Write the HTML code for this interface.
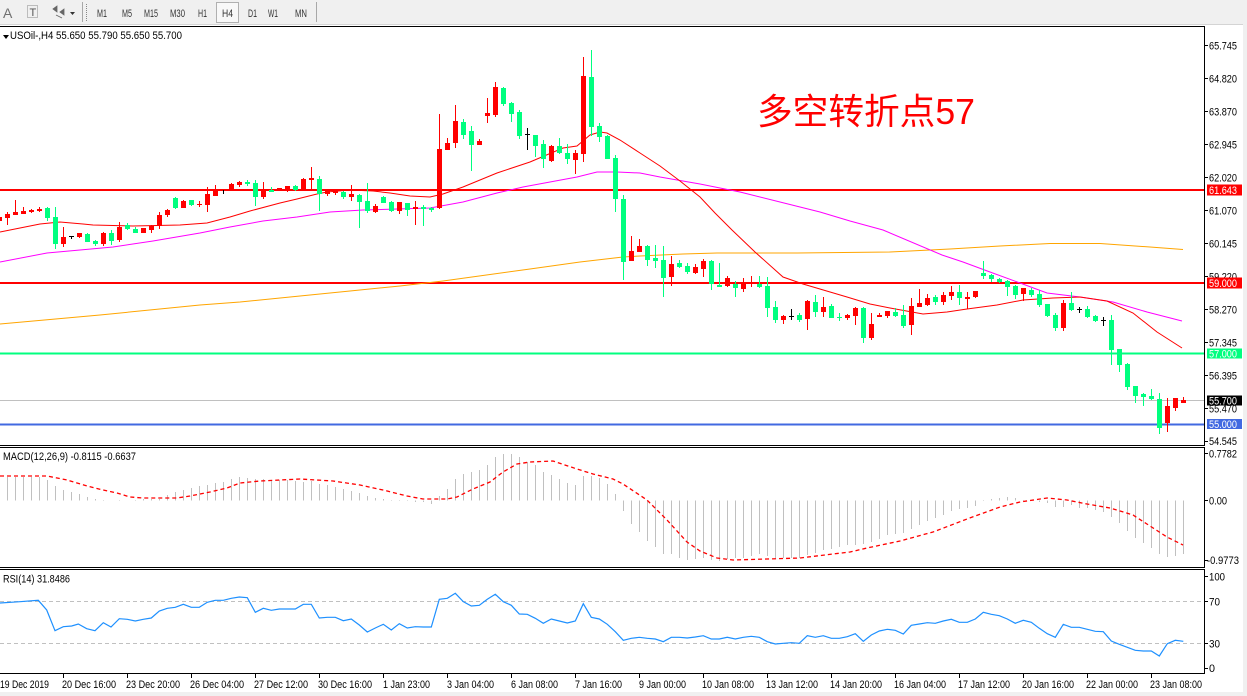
<!DOCTYPE html>
<html><head><meta charset="utf-8"><style>
html,body{margin:0;padding:0;background:#fff;width:1247px;height:696px;overflow:hidden}
svg{display:block}
text{font-family:"Liberation Sans","Noto Sans CJK SC",sans-serif}
</style></head><body>
<svg width="1247" height="696" viewBox="0 0 1247 696" xmlns="http://www.w3.org/2000/svg">
<rect x="0" y="0" width="1247" height="696" fill="#fff"/>
<!-- toolbar -->
<rect x="0" y="0" width="1247" height="24" fill="#f0f0f0"/>
<line x1="0" y1="24.5" x2="1247" y2="24.5" stroke="#d4d4d4"/>
<text x="3" y="18" font-size="14" fill="#707070">A</text>
<rect x="27.5" y="5.5" width="10" height="12" fill="none" stroke="#888" stroke-dasharray="1 1"/>
<text x="29.5" y="16" font-size="11" fill="#555">T</text>
<path d="M53 9l4 -3v6zM60 12l4 3v-6zM56 15l6 3" fill="#666" stroke="#666" stroke-width="0.8"/>
<path d="M70 12h5l-2.5 3z" fill="#333"/>
<line x1="82.5" y1="2" x2="82.5" y2="22" stroke="#a8a8a8"/>
<line x1="86.5" y1="4" x2="86.5" y2="21" stroke="#888" stroke-dasharray="1 1"/>
<rect x="216.5" y="2.5" width="22" height="20" fill="#f8f8f8" stroke="#b0b0b0"/>
<g font-size="11" fill="#333">
<text x="97" y="17" textLength="10" lengthAdjust="spacingAndGlyphs">M1</text>
<text x="122" y="17" textLength="10" lengthAdjust="spacingAndGlyphs">M5</text>
<text x="144" y="17" textLength="14" lengthAdjust="spacingAndGlyphs">M15</text>
<text x="170" y="17" textLength="15" lengthAdjust="spacingAndGlyphs">M30</text>
<text x="198" y="17" textLength="9" lengthAdjust="spacingAndGlyphs">H1</text>
<text x="222" y="17" textLength="11" lengthAdjust="spacingAndGlyphs">H4</text>
<text x="248" y="17" textLength="9" lengthAdjust="spacingAndGlyphs">D1</text>
<text x="268" y="17" textLength="10" lengthAdjust="spacingAndGlyphs">W1</text>
<text x="295" y="17" textLength="12" lengthAdjust="spacingAndGlyphs">MN</text>
</g>
<line x1="316.5" y1="2" x2="316.5" y2="22" stroke="#a8a8a8"/>

<!-- panel borders -->
<g stroke="#000" stroke-width="1" fill="none">
<line x1="0" y1="26.5" x2="1205" y2="26.5"/>
<line x1="0" y1="445.5" x2="1205" y2="445.5"/>
<line x1="0" y1="447.5" x2="1205" y2="447.5"/>
<line x1="0" y1="567.5" x2="1205" y2="567.5"/>
<line x1="0" y1="569.5" x2="1205" y2="569.5"/>
<line x1="0" y1="673.5" x2="1205" y2="673.5"/>
<line x1="1204.5" y1="26" x2="1204.5" y2="446"/>
<line x1="1204.5" y1="447" x2="1204.5" y2="568"/>
<line x1="1204.5" y1="569" x2="1204.5" y2="674"/>
</g>
<rect x="1243" y="0" width="4" height="696" fill="#f0f0f0"/>
<rect x="0" y="692" width="1247" height="4" fill="#f0f0f0"/>

<!-- header texts -->
<path d="M3 35h6l-3 4z" fill="#000"/>
<text x="10" y="39" font-size="11" textLength="172" lengthAdjust="spacingAndGlyphs">USOil-,H4  55.650 55.790 55.650 55.700</text>
<text x="3" y="460" font-size="11" textLength="133" lengthAdjust="spacingAndGlyphs">MACD(12,26,9) -0.8115 -0.6637</text>
<text x="3" y="582.5" font-size="11" textLength="67" lengthAdjust="spacingAndGlyphs">RSI(14) 31.8486</text>

<!-- level lines -->
<line x1="0" y1="400.5" x2="1204" y2="400.5" stroke="#c0c0c0"/>
<line x1="0" y1="190" x2="1204" y2="190" stroke="#ff0000" stroke-width="2"/>
<line x1="0" y1="283" x2="1204" y2="283" stroke="#ff0000" stroke-width="2"/>
<line x1="0" y1="353.5" x2="1204" y2="353.5" stroke="#00ff7f" stroke-width="2"/>
<line x1="0" y1="424.5" x2="1204" y2="424.5" stroke="#4169e1" stroke-width="2"/>

<!-- moving averages -->
<polyline fill="none" stroke="#ffa500" stroke-width="1" points="0,324 100,315 200,305 240,302 300,296 350,291 400,286 443,281 530,269 580,262 623,257 640,256 683,254 717,253 797,253 890,252 950,249 1000,246 1050,243.5 1100,243.5 1150,247 1183,249.5"/>
<polyline fill="none" stroke="#ff00ff" stroke-width="1" points="0,262 47,253 113,247 153,241 200,233 230,227 263,221 297,217 330,212 363,210 397,209 430,208 463,202 497,193 523,187 577,177 597,172 617,172 640,173 660,177 700,184 740,192 780,202 820,212 850,221 883,230 942,255 963,262 990,272 1020,283 1047,293 1080,297 1113,302 1147,312 1182,321"/>
<polyline fill="none" stroke="#ff0000" stroke-width="1" points="0,232 20,228 40,224 60,222 83,224 93,225 133,226 180,225 207,223 230,217 250,211 280,203 297,199 317,194 327,192 350,190 373,191 390,193 410,196 430,197 443,194 463,187 497,173 530,162 563,148 577,146 590,135 600,132 607,133 620,140 640,153 660,166 680,181 700,197 715,213 732,230 755,252 783,277 803,284 847,297 870,304 890,308 923,314 947,312 967,309 997,305 1023,300 1053,298 1080,297 1107,301 1133,313 1157,332 1182,348"/>

<!-- candles: red (up) -->
<path fill="none" stroke="#ff0000" stroke-width="1" d="M-.5 215V223M7.5 212V225M15.5 200V215M23.5 207V214M31.5 209V213M39.5 207V212M63.5 227V247M79.5 233V238M103.5 232V246M119.5 222V242M143.5 228V233M151.5 225V233M159.5 212V229M167.5 209V217M183.5 200V208M199.5 201V207M207.5 187V212M215.5 185V196M231.5 183V189M239.5 181V187M263.5 182V199M279.5 188V191M287.5 186V192M303.5 178V190M311.5 167V190M327.5 190V196M335.5 190V195M351.5 185V201M375.5 204V213M399.5 202V214M415.5 201V225M439.5 114V209M447.5 138V150M455.5 105V148M479.5 139V145M487.5 98V123M495.5 82V117M551.5 145V162M575.5 150V174M583.5 57V162M631.5 236V261M639.5 239V252M671.5 256V286M695.5 264V274M703.5 259V277M727.5 276V287M743.5 278V292M751.5 276V287M783.5 315V324M807.5 300V330M823.5 297V317M847.5 314V320M855.5 307V325M871.5 313V340M879.5 313V317M887.5 311V318M911.5 298V335M919.5 289V307M927.5 294V306M943.5 292V305M951.5 286V300M967.5 292V309M975.5 291V298M1023.5 288V301M1063.5 300V331M1167.5 398V432M1175.5 398V411M1183.5 397V403"/>
<path fill="#ff0000" d="M-3 217h5v4h-5zM5 214h5v4h-5zM13 212h5v3h-5zM21 211h5v3h-5zM29 210h5v2h-5zM37 209h5v2h-5zM61 237h5v7h-5zM77 233h5v4h-5zM101 233h5v11h-5zM117 227h5v13h-5zM141 228h5v5h-5zM149 226h5v4h-5zM157 215h5v11h-5zM165 210h5v5h-5zM181 201h5v7h-5zM197 204h5v1h-5zM205 194h5v11h-5zM213 190h5v6h-5zM229 184h5v5h-5zM237 182h5v3h-5zM261 189h5v8h-5zM277 188h5v3h-5zM285 186h5v5h-5zM301 179h5v11h-5zM309 178h5v2h-5zM325 191h5v3h-5zM333 190h5v3h-5zM349 194h5v3h-5zM373 206h5v6h-5zM397 202h5v9h-5zM413 207h5v2h-5zM437 149h5v59h-5zM445 143h5v7h-5zM453 121h5v22h-5zM477 141h5v4h-5zM485 113h5v3h-5zM493 87h5v28h-5zM549 146h5v15h-5zM573 153h5v7h-5zM581 76h5v78h-5zM629 251h5v10h-5zM637 246h5v6h-5zM669 264h5v13h-5zM693 267h5v6h-5zM701 261h5v8h-5zM725 278h5v8h-5zM741 283h5v6h-5zM749 282h5v1h-5zM781 316h5v4h-5zM805 301h5v18h-5zM821 307h5v5h-5zM845 315h5v3h-5zM853 308h5v8h-5zM869 324h5v14h-5zM877 315h5v2h-5zM885 311h5v5h-5zM909 306h5v19h-5zM917 303h5v4h-5zM925 298h5v7h-5zM941 295h5v7h-5zM949 292h5v4h-5zM965 297h5v2h-5zM973 291h5v6h-5zM1021 288h5v6h-5zM1061 303h5v25h-5zM1165 406h5v17h-5zM1173 398h5v10h-5zM1181 400h5v3h-5z"/>
<!-- candles: green (down) -->
<path fill="none" stroke="#00ff7f" stroke-width="1" d="M47.5 207V221M55.5 207V249M87.5 233V242M95.5 240V246M111.5 230V245M127.5 223V230M135.5 227V233M175.5 197V209M191.5 200V206M247.5 180V186M255.5 180V206M271.5 187V192M295.5 185V191M319.5 176V211M343.5 191V199M359.5 194V228M367.5 183V213M383.5 196V203M391.5 201V212M407.5 203V216M423.5 205V226M431.5 207V212M463.5 119V139M471.5 126V171M503.5 87V106M511.5 102V122M519.5 110V139M535.5 135V157M543.5 140V168M559.5 138V154M567.5 144V164M591.5 50V136M599.5 123V142M607.5 135V159M615.5 155V212M623.5 195V280M647.5 245V266M655.5 245V268M663.5 246V297M679.5 260V268M687.5 263V274M711.5 260V290M719.5 263V287M735.5 281V297M759.5 276V288M767.5 277V317M775.5 301V323M799.5 313V322M815.5 295V317M831.5 304V318M839.5 313V321M863.5 307V343M895.5 308V317M903.5 305V328M935.5 295V305M959.5 285V305M983.5 261V279M991.5 274V282M999.5 278V283M1007.5 280V296M1015.5 285V299M1031.5 288V297M1039.5 290V307M1047.5 304V317M1055.5 313V331M1071.5 292V311M1087.5 306V318M1095.5 315V322M1111.5 315V365M1119.5 349V372M1127.5 363V390M1135.5 386V403M1143.5 393V406M1151.5 389V400M1159.5 393V434"/>
<path fill="#00ff7f" d="M45 208h5v10h-5zM53 217h5v27h-5zM85 234h5v8h-5zM93 241h5v3h-5zM109 233h5v8h-5zM125 225h5v4h-5zM133 229h5v4h-5zM173 198h5v10h-5zM189 200h5v5h-5zM245 182h5v2h-5zM253 183h5v14h-5zM269 190h5v2h-5zM293 186h5v4h-5zM317 179h5v15h-5zM341 192h5v5h-5zM357 195h5v7h-5zM365 201h5v10h-5zM381 197h5v6h-5zM389 202h5v9h-5zM405 203h5v7h-5zM421 207h5v2h-5zM429 208h5v2h-5zM461 122h5v13h-5zM469 131h5v14h-5zM501 88h5v16h-5zM509 103h5v11h-5zM517 112h5v24h-5zM533 135h5v11h-5zM541 144h5v15h-5zM557 146h5v7h-5zM565 153h5v6h-5zM589 77h5v50h-5zM597 126h5v11h-5zM605 136h5v23h-5zM613 158h5v41h-5zM621 199h5v63h-5zM645 246h5v14h-5zM653 258h5v3h-5zM661 260h5v18h-5zM677 263h5v4h-5zM685 266h5v6h-5zM709 261h5v23h-5zM717 285h5v2h-5zM733 284h5v4h-5zM757 284h5v3h-5zM765 286h5v22h-5zM773 307h5v13h-5zM797 315h5v5h-5zM813 302h5v10h-5zM829 306h5v12h-5zM837 317h5v1h-5zM861 308h5v30h-5zM893 312h5v4h-5zM901 315h5v11h-5zM933 297h5v5h-5zM957 292h5v6h-5zM981 273h5v3h-5zM989 275h5v4h-5zM997 279h5v3h-5zM1005 281h5v6h-5zM1013 286h5v9h-5zM1029 290h5v5h-5zM1037 294h5v11h-5zM1045 304h5v12h-5zM1053 315h5v13h-5zM1069 303h5v7h-5zM1085 309h5v8h-5zM1093 316h5v5h-5zM1109 320h5v30h-5zM1117 349h5v16h-5zM1125 364h5v23h-5zM1133 386h5v10h-5zM1141 394h5v3h-5zM1149 396h5v3h-5zM1157 399h5v29h-5z"/>
<!-- doji -->
<path fill="none" stroke="#000" stroke-width="1" d="M71.5 236V239M223.5 190V194M527.5 128V150M791.5 309V320M1079.5 307V313M1103.5 317V326"/>
<path fill="#000" d="M69 236h5v1h-5zM525 134h5v1h-5zM789 316h5v1h-5zM1077 309h5v1h-5zM1101 320h5v1h-5z"/>

<!-- title -->
<text x="757" y="124" font-size="36" fill="#ff0000" textLength="218" lengthAdjust="spacingAndGlyphs" style="font-family:'Liberation Sans','Noto Sans CJK SC',sans-serif">多空转折点57</text>

<!-- price axis -->
<g stroke="#000">
<path d="M1204 45.5h4M1204 78.5h4M1204 111.5h4M1204 144.5h4M1204 177.5h4M1204 210.5h4M1204 243.5h4M1204 276.5h4M1204 309.5h4M1204 342.5h4M1204 375.5h4M1204 408.5h4M1204 441.5h4"/>
<path d="M1204 453.5h4M1204 500.5h4M1204 560.5h4M1204 576.5h4M1204 601.5h4M1204 643.5h4M1204 668.5h4"/>
</g>
<g font-size="11" fill="#000">
<text x="1209" y="49.5" textLength="28" lengthAdjust="spacingAndGlyphs">65.745</text>
<text x="1209" y="82.5" textLength="28" lengthAdjust="spacingAndGlyphs">64.820</text>
<text x="1209" y="115.5" textLength="28" lengthAdjust="spacingAndGlyphs">63.870</text>
<text x="1209" y="148.5" textLength="28" lengthAdjust="spacingAndGlyphs">62.945</text>
<text x="1209" y="181.5" textLength="28" lengthAdjust="spacingAndGlyphs">62.020</text>
<text x="1209" y="214.5" textLength="28" lengthAdjust="spacingAndGlyphs">61.070</text>
<text x="1209" y="247.5" textLength="28" lengthAdjust="spacingAndGlyphs">60.145</text>
<text x="1209" y="280.5" textLength="28" lengthAdjust="spacingAndGlyphs">59.220</text>
<text x="1209" y="313.5" textLength="28" lengthAdjust="spacingAndGlyphs">58.270</text>
<text x="1209" y="346.5" textLength="28" lengthAdjust="spacingAndGlyphs">57.345</text>
<text x="1209" y="379.5" textLength="28" lengthAdjust="spacingAndGlyphs">56.395</text>
<text x="1209" y="412.5" textLength="28" lengthAdjust="spacingAndGlyphs">55.470</text>
<text x="1209" y="445" textLength="28" lengthAdjust="spacingAndGlyphs">54.545</text>
<text x="1209" y="457.5" textLength="28" lengthAdjust="spacingAndGlyphs">0.7782</text>
<text x="1209" y="504.5" textLength="18" lengthAdjust="spacingAndGlyphs">0.00</text>
<text x="1207" y="564" textLength="32" lengthAdjust="spacingAndGlyphs">-0.9773</text>
<text x="1209" y="580.5" textLength="16" lengthAdjust="spacingAndGlyphs">100</text>
<text x="1209" y="605.5" textLength="11" lengthAdjust="spacingAndGlyphs">70</text>
<text x="1209" y="647.5" textLength="11" lengthAdjust="spacingAndGlyphs">30</text>
<text x="1209" y="672" textLength="6" lengthAdjust="spacingAndGlyphs">0</text>
</g>
<!-- level label boxes -->
<rect x="1207" y="184.5" width="35" height="11" fill="#ff0000"/>
<rect x="1207" y="277.5" width="35" height="11" fill="#ff0000"/>
<rect x="1207" y="348.5" width="35" height="10" fill="#00ff7f"/>
<rect x="1207" y="395.5" width="35" height="10" fill="#000"/>
<rect x="1207" y="419" width="35" height="10" fill="#4169e1"/>
<g font-size="11" fill="#fff">
<text x="1209" y="194" textLength="28" lengthAdjust="spacingAndGlyphs">61.643</text>
<text x="1209" y="287" textLength="28" lengthAdjust="spacingAndGlyphs">59.000</text>
<text x="1209" y="357.5" textLength="28" lengthAdjust="spacingAndGlyphs">57.000</text>
<text x="1209" y="404.5" textLength="28" lengthAdjust="spacingAndGlyphs">55.700</text>
<text x="1209" y="428" textLength="28" lengthAdjust="spacingAndGlyphs">55.000</text>
</g>

<!-- MACD histogram -->
<path fill="none" stroke="#c0c0c0" stroke-width="1" d="M7.5 500.5V477M15.5 500.5V477M23.5 500.5V477M31.5 500.5V477M39.5 500.5V477M47.5 500.5V480M55.5 500.5V486M63.5 500.5V490M71.5 500.5V492M79.5 500.5V494M87.5 500.5V497M95.5 500.5V499M103.5 500.5V500M119.5 500.5V500M135.5 500.5V500M143.5 500.5V499M151.5 500.5V499M159.5 500.5V499M167.5 500.5V495M175.5 500.5V492M183.5 500.5V490M191.5 500.5V488M199.5 500.5V486M207.5 500.5V485M215.5 500.5V483M223.5 500.5V482M231.5 500.5V479M239.5 500.5V477M247.5 500.5V478M255.5 500.5V479M263.5 500.5V479M271.5 500.5V480M279.5 500.5V480M287.5 500.5V480M295.5 500.5V481M303.5 500.5V482M311.5 500.5V481M319.5 500.5V484M327.5 500.5V485M335.5 500.5V487M343.5 500.5V489M351.5 500.5V491M359.5 500.5V493M367.5 500.5V496M375.5 500.5V498M383.5 500.5V499M391.5 500.5V500M399.5 500.5V500M407.5 500.5V500M415.5 500.5V502M423.5 500.5V502M431.5 500.5V504M439.5 500.5V496M447.5 500.5V489M455.5 500.5V479M463.5 500.5V474M471.5 500.5V472M479.5 500.5V470M487.5 500.5V465M495.5 500.5V457M503.5 500.5V454M511.5 500.5V454M519.5 500.5V457M527.5 500.5V462M535.5 500.5V465M543.5 500.5V472M551.5 500.5V475M559.5 500.5V479M567.5 500.5V483M575.5 500.5V485M583.5 500.5V476M591.5 500.5V476M599.5 500.5V478M607.5 500.5V484M615.5 500.5V494M623.5 500.5V511M631.5 500.5V524M639.5 500.5V532M647.5 500.5V541M655.5 500.5V547M663.5 500.5V554M671.5 500.5V554M679.5 500.5V558M687.5 500.5V560M695.5 500.5V559M703.5 500.5V558M711.5 500.5V560M719.5 500.5V561M727.5 500.5V559M735.5 500.5V558M743.5 500.5V558M751.5 500.5V556M759.5 500.5V554M767.5 500.5V556M775.5 500.5V558M783.5 500.5V558M791.5 500.5V558M799.5 500.5V558M807.5 500.5V555M815.5 500.5V553M823.5 500.5V550M831.5 500.5V549M839.5 500.5V547M847.5 500.5V545M855.5 500.5V545M863.5 500.5V544M871.5 500.5V542M879.5 500.5V539M887.5 500.5V535M895.5 500.5V534M903.5 500.5V533M911.5 500.5V529M919.5 500.5V525M927.5 500.5V521M935.5 500.5V518M943.5 500.5V515M951.5 500.5V511M959.5 500.5V509M967.5 500.5V508M975.5 500.5V506M983.5 500.5V500M991.5 500.5V499M999.5 500.5V498M1007.5 500.5V497M1015.5 500.5V498M1023.5 500.5V500M1031.5 500.5V500M1039.5 500.5V502M1047.5 500.5V503M1055.5 500.5V507M1063.5 500.5V507M1071.5 500.5V505M1079.5 500.5V508M1087.5 500.5V508M1095.5 500.5V510M1103.5 500.5V512M1111.5 500.5V517M1119.5 500.5V523M1127.5 500.5V531M1135.5 500.5V538M1143.5 500.5V543M1151.5 500.5V548M1159.5 500.5V554M1167.5 500.5V557M1175.5 500.5V556M1183.5 500.5V554"/>
<!-- MACD signal -->
<polyline fill="none" stroke="#ff0000" stroke-width="1.3" stroke-dasharray="4 3" points="0,476 47,476 67,480 87,486 103,490 117,493 130,497 143,498 177,498 190,496 210,492 227,488 240,483 260,481 300,479 333,481 360,485 383,490 407,496 423,499 447,499 457,497 473,489 490,482 503,472 517,464 530,462 553,461 577,469 593,474 613,479 623,484 647,500 667,520 687,542 700,551 717,558 733,560 767,559 800,558 833,554 850,552 867,548 900,541 933,532 967,519 1000,507 1020,502 1047,498 1067,500 1087,504 1110,508 1120,511 1133,515 1150,526 1167,537 1183,545"/>

<!-- RSI levels -->
<line x1="0" y1="601.5" x2="1204" y2="601.5" stroke="#c0c0c0" stroke-dasharray="4 3"/>
<line x1="0" y1="643.5" x2="1204" y2="643.5" stroke="#c0c0c0" stroke-dasharray="4 3"/>
<!-- RSI line -->
<polyline fill="none" stroke="#1e90ff" stroke-width="1.2" points="0,603 20,601.7 38.3,600.3 46.7,610 55,630.7 63.3,626.7 71.7,626 78.3,624 86.7,628.7 95,630.7 103.3,622.7 111,627 119.3,618.7 127.3,619.3 135.3,621 143.3,619.3 151.3,618 159.3,611 167.3,608.3 175.3,607.3 183.3,604.3 191.3,607.3 199.3,607.3 207.3,602.3 215.3,600.3 223.3,600.3 231.3,598.3 239.3,597 247.3,597.7 255.3,612.3 263.3,608.3 271.3,610.3 279.3,609 287.3,609 295.3,609 303.3,604.3 311.3,604.3 319.3,618 327.3,617.3 335.3,617.3 343.3,620.7 351.3,619 359.3,625 367.3,632 375.3,628 383.3,624.3 391.3,630 399.3,623.7 407.3,628 415.3,626.7 423.3,627 431.3,627 439.3,599.3 447.3,598.3 455.3,593.3 463.3,601.7 471.3,606 479.3,605.3 487.3,599.3 495.3,594.3 503.3,601.7 511.3,605.3 519.3,614 527.3,614.3 535.3,618.3 543.3,623.3 551.3,619 559.3,621 567.3,623 575.3,621 583.3,603.7 591.3,617.3 599.3,619 607.3,624.3 615.3,631.7 623.3,640.3 631.3,638.3 639.3,637.3 647.3,638.3 655.3,639 663.3,641.7 671.3,637.3 679.3,637.3 687.3,638 695.3,637 703.3,635.7 711.3,639 719.3,639 727.3,637.3 735.3,639 743.3,637.3 751.3,636.3 759.3,637.3 767.3,641.7 775.3,644 783.3,643.3 791.3,642.7 799.3,643.3 807.3,635.7 815.3,637.3 823.3,635.7 831.3,638.3 839.3,638.3 847.3,636.7 855.3,633.7 863.3,641.3 871.3,635 879.3,631 887.3,629.3 895.3,630.3 903.3,634 911.3,625.3 919.3,624 927.3,622.7 935.3,623.3 943.3,621 951.3,619.3 959.3,622.3 967.3,622.3 975.3,619 983.3,612.3 991.3,614.3 999.3,615.7 1007.3,619 1015.3,623.3 1023.3,620.3 1031.3,622.3 1039.3,628.3 1047.3,633.7 1055.3,637.3 1063.3,624.3 1071.3,627.3 1079.3,627.3 1087.3,629.3 1095.3,631.3 1103.3,631.7 1111.3,641 1119.3,644.3 1127.3,647.3 1135.3,650.3 1143.3,651 1151.3,651 1159.3,656 1167.3,643.7 1175.3,640.3 1183.3,641.3"/>

<!-- time axis -->
<path stroke="#000" d="M63.5 674v4M127.5 674v4M191.5 674v4M255.5 674v4M319.5 674v4M383.5 674v4M447.5 674v4M511.5 674v4M575.5 674v4M639.5 674v4M703.5 674v4M767.5 674v4M831.5 674v4M895.5 674v4M959.5 674v4M1023.5 674v4M1087.5 674v4M1151.5 674v4"/>
<g font-size="11" fill="#000">
<text x="0" y="688" textLength="49" lengthAdjust="spacingAndGlyphs">19 Dec 2019</text>
<text x="62" y="688" textLength="54" lengthAdjust="spacingAndGlyphs">20 Dec 16:00</text>
<text x="126" y="688" textLength="54" lengthAdjust="spacingAndGlyphs">23 Dec 20:00</text>
<text x="190" y="688" textLength="54" lengthAdjust="spacingAndGlyphs">26 Dec 04:00</text>
<text x="254" y="688" textLength="54" lengthAdjust="spacingAndGlyphs">27 Dec 12:00</text>
<text x="318" y="688" textLength="54" lengthAdjust="spacingAndGlyphs">30 Dec 16:00</text>
<text x="383" y="688" textLength="47" lengthAdjust="spacingAndGlyphs">1 Jan 23:00</text>
<text x="447" y="688" textLength="47" lengthAdjust="spacingAndGlyphs">3 Jan 04:00</text>
<text x="511" y="688" textLength="47" lengthAdjust="spacingAndGlyphs">6 Jan 08:00</text>
<text x="575" y="688" textLength="47" lengthAdjust="spacingAndGlyphs">7 Jan 16:00</text>
<text x="639" y="688" textLength="47" lengthAdjust="spacingAndGlyphs">9 Jan 00:00</text>
<text x="702" y="688" textLength="52" lengthAdjust="spacingAndGlyphs">10 Jan 08:00</text>
<text x="766" y="688" textLength="52" lengthAdjust="spacingAndGlyphs">13 Jan 12:00</text>
<text x="830" y="688" textLength="52" lengthAdjust="spacingAndGlyphs">14 Jan 20:00</text>
<text x="894" y="688" textLength="52" lengthAdjust="spacingAndGlyphs">16 Jan 04:00</text>
<text x="958" y="688" textLength="52" lengthAdjust="spacingAndGlyphs">17 Jan 12:00</text>
<text x="1022" y="688" textLength="52" lengthAdjust="spacingAndGlyphs">20 Jan 16:00</text>
<text x="1086" y="688" textLength="52" lengthAdjust="spacingAndGlyphs">22 Jan 00:00</text>
<text x="1150" y="688" textLength="52" lengthAdjust="spacingAndGlyphs">23 Jan 08:00</text>
</g>
</svg>
</body></html>
